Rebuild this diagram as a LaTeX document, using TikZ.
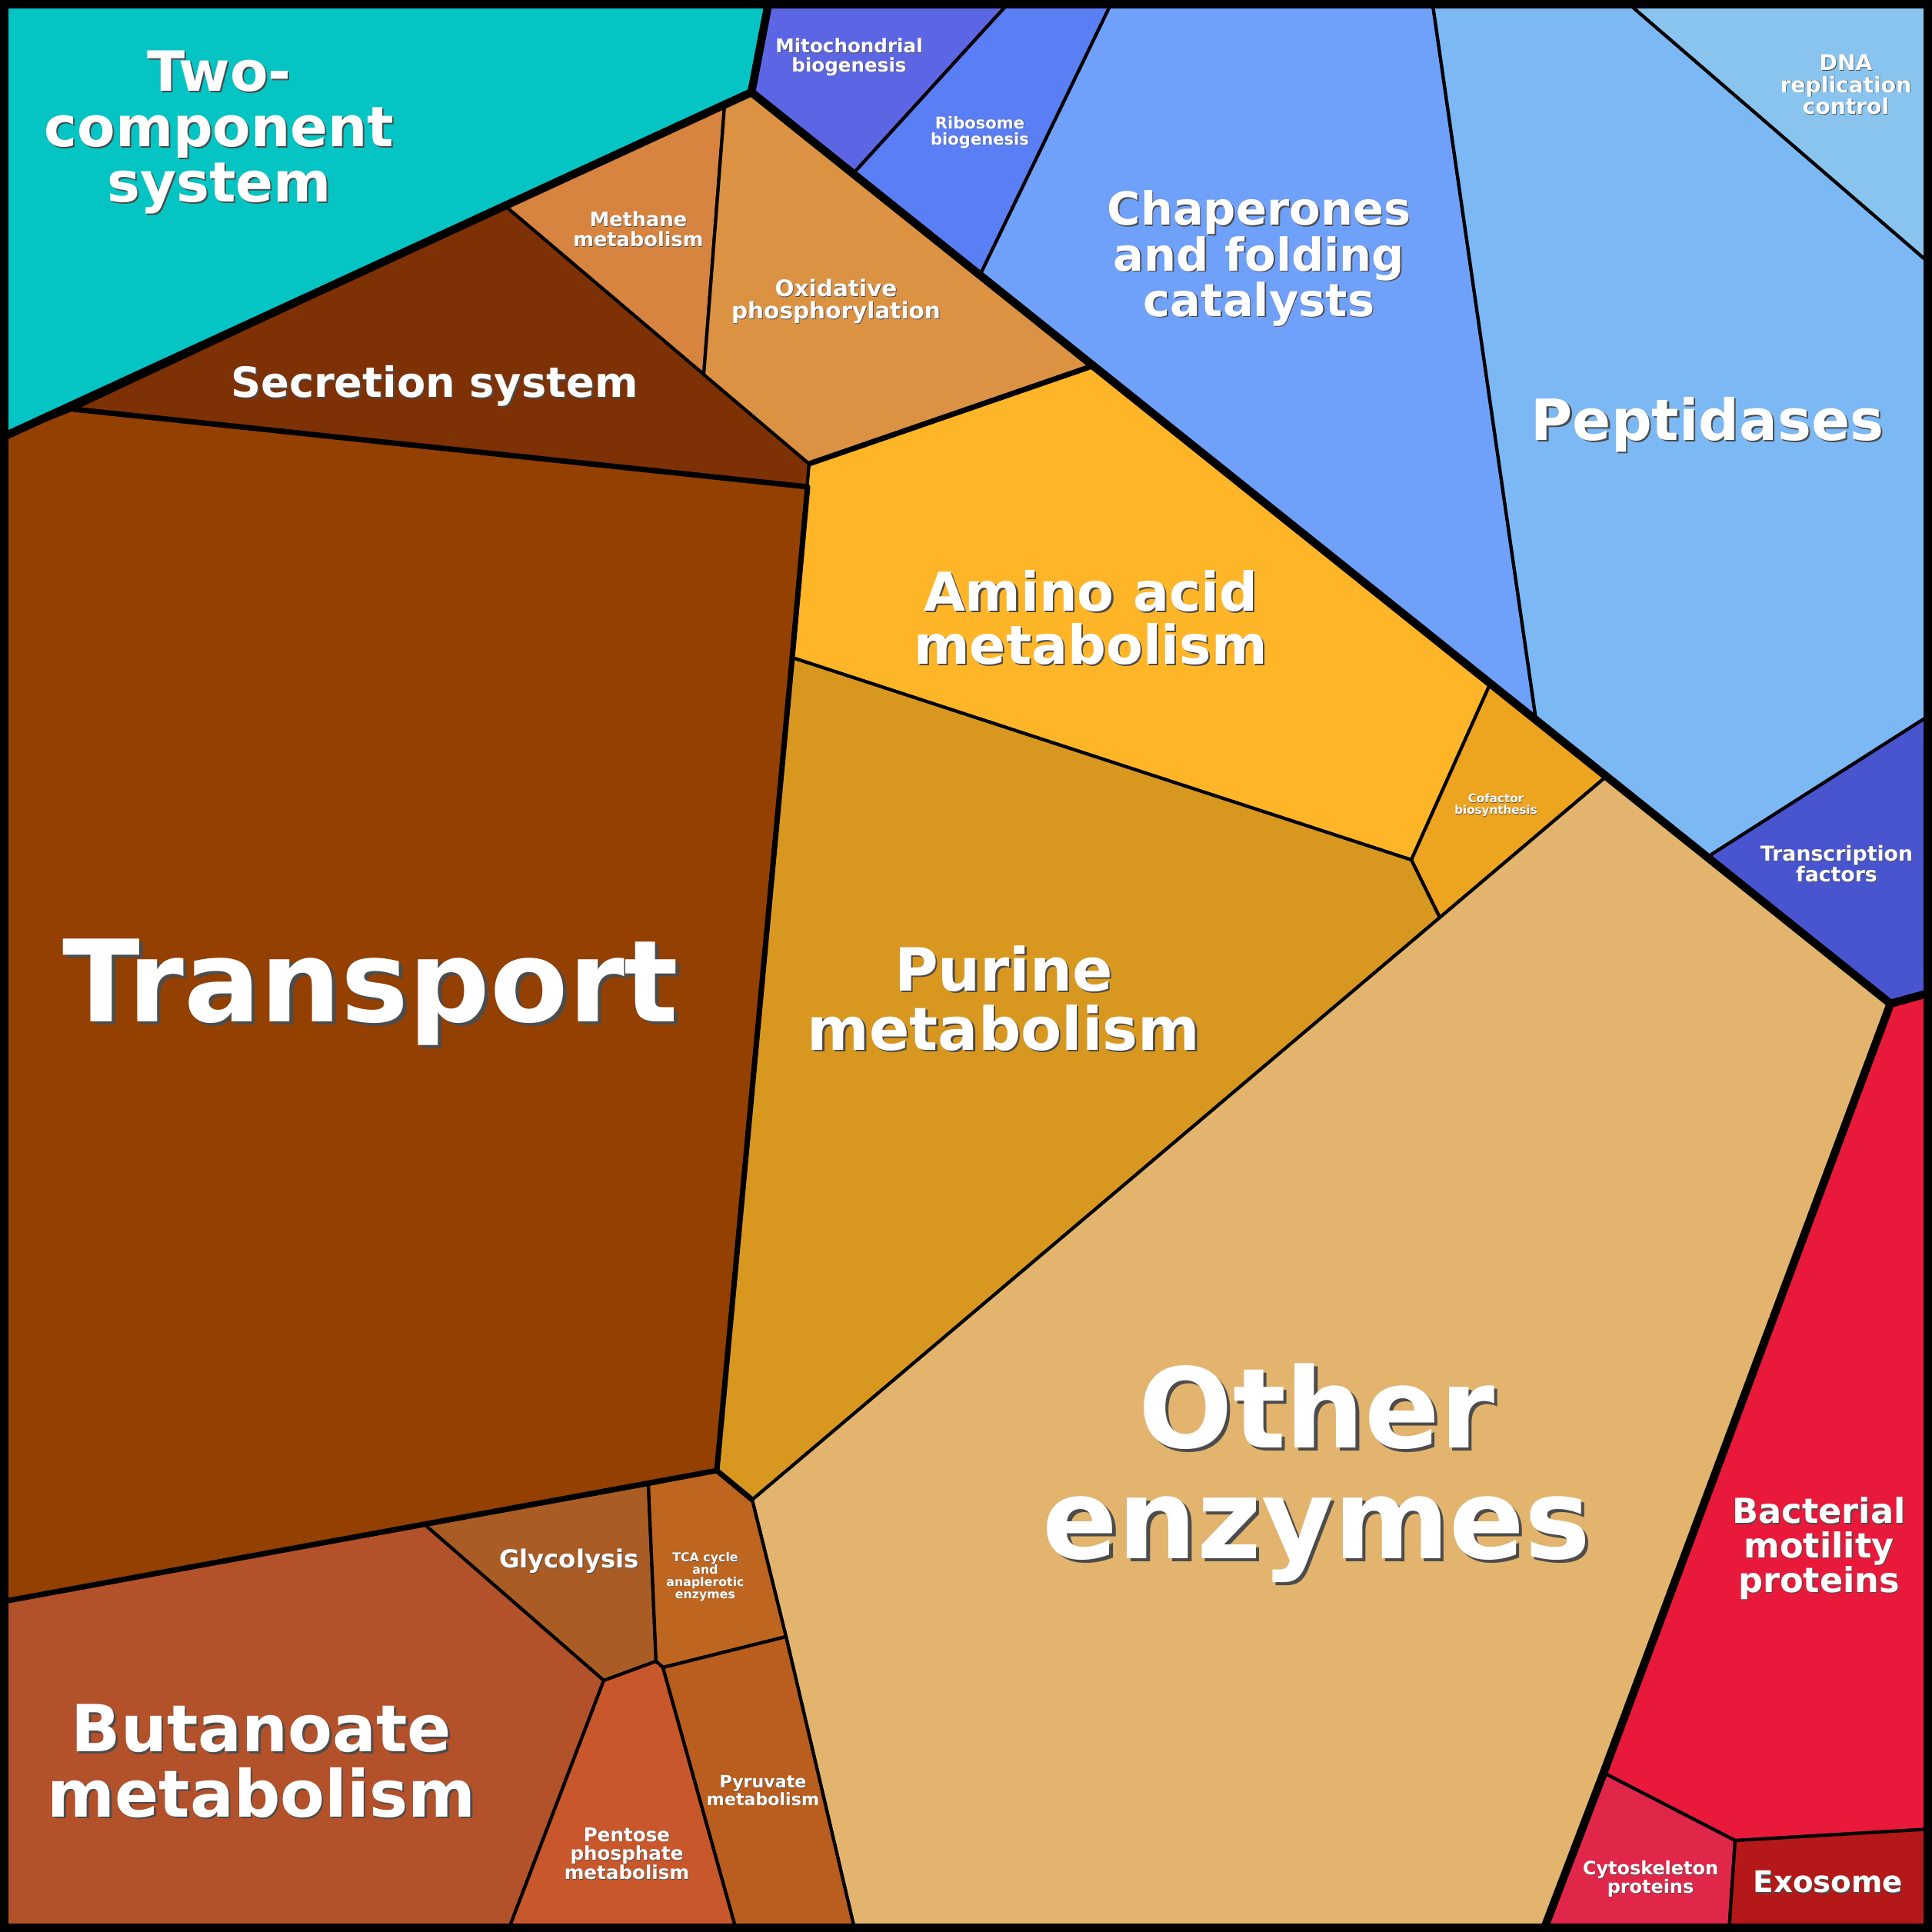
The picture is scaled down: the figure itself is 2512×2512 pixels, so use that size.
\documentclass[tikz,border=0pt]{standalone}
\usepackage{fontspec}
\setmainfont{DejaVu Sans}
\usetikzlibrary{calc}
\begin{document}
\begin{tikzpicture}[x=0.01cm,y=-0.01cm,
  cell/.style={draw=black,line width=1.2pt,line join=round},
  thk/.style={draw=black,line width=3pt,line join=round},
  mid/.style={draw=black,line width=2pt,line join=round},
  lbl/.style={text=white,align=center,inner sep=0pt,font=\bfseries},
  shd/.style={text=black!70,align=center,inner sep=0pt,font=\bfseries}]
\newcommand\lab[4]{%
  \node[shd,font=\bfseries\fontsize{#3}{#3}\selectfont] (#1s) at ($(#2)+(0.03*#3pt,-0.03*#3pt)$) {#4};
  \node[lbl,font=\bfseries\fontsize{#3}{#3}\selectfont] (#1) at (#2) {#4};}
\useasboundingbox (0,0) rectangle (2512,2512);
\definecolor{ctwo}{HTML}{04C4C4}\definecolor{cmeth}{HTML}{D6843F}\definecolor{coxi}{HTML}{DB9243}
\definecolor{csec}{HTML}{7E3105}\definecolor{ctra}{HTML}{934002}\definecolor{cmito}{HTML}{5C66E4}
\definecolor{cribo}{HTML}{5A7EF4}\definecolor{cchap}{HTML}{6FA0FA}\definecolor{cpep}{HTML}{7BB8F4}
\definecolor{cdna}{HTML}{89C4EE}\definecolor{ctf}{HTML}{4855CF}\definecolor{camino}{HTML}{FEB527}
\definecolor{ccof}{HTML}{EDA41E}\definecolor{cpur}{HTML}{D89820}\definecolor{coth}{HTML}{E2B46E}
\definecolor{cbac}{HTML}{E8193A}\definecolor{ccyto}{HTML}{E0274A}\definecolor{cexo}{HTML}{B41818}
\definecolor{cgly}{HTML}{A95D25}\definecolor{ctca}{HTML}{BE6520}\definecolor{cbut}{HTML}{B3512B}
\definecolor{cpen}{HTML}{C8572C}\definecolor{cpyr}{HTML}{B95E1E}
% cells
\fill[ctwo,cell] (0,0)--(1000,0)--(977,120)--(0,570)--cycle;
\fill[cmeth,cell] (657,268)--(942,138)--(915,487)--cycle;
\fill[csec,cell] (95,532)--(657,268)--(1052,603)--(1050,633)--cycle;
\fill[coxi,cell] (942,138)--(977,120)--(1420,476)--(1052,603)--(915,487)--cycle;
\fill[cmito,cell] (1000,0)--(1315,0)--(1110,225)--(977,120)--cycle;
\fill[cribo,cell] (1315,0)--(1447,0)--(1275,356)--(1110,225)--cycle;
\fill[cchap,cell] (1447,0)--(1862,0)--(1997,935)--(1275,356)--cycle;
\fill[cpep,cell] (1862,0)--(2112,0)--(2512,345)--(2512,928)--(2222,1113)--(1997,935)--cycle;
\fill[cdna,cell] (2112,0)--(2512,0)--(2512,345)--cycle;
\fill[ctf,cell] (2222,1113)--(2512,928)--(2512,1290)--(2458,1305)--cycle;
\fill[camino,cell] (1052,603)--(1420,476)--(1938,888)--(1835,1118)--(1030,855)--cycle;
\fill[ccof,cell] (1938,888)--(2088,1010)--(1872,1193)--(1835,1118)--cycle;
\fill[cpur,cell] (1030,855)--(1835,1118)--(1872,1193)--(978,1950)--(932,1912)--cycle;
\fill[ctra,cell] (0,570)--(95,532)--(1050,633)--(1030,855)--(932,1912)--(553,1983)--(0,2083)--cycle;
\fill[coth,cell] (2088,1010)--(2458,1305)--(2085,2305)--(2006,2512)--(1112,2512)--(1022,2128)--(978,1950)--(1872,1193)--cycle;
\fill[cbac,cell] (2458,1305)--(2512,1290)--(2512,2378)--(2256,2393)--(2085,2305)--cycle;
\fill[ccyto,cell] (2085,2305)--(2256,2393)--(2248,2512)--(2006,2512)--cycle;
\fill[cexo,cell] (2256,2393)--(2512,2378)--(2512,2512)--(2248,2512)--cycle;
\fill[cgly,cell] (553,1983)--(843,1930)--(853,2160)--(785,2185)--cycle;
\fill[ctca,cell] (843,1930)--(932,1912)--(978,1950)--(1022,2128)--(862,2168)--(853,2160)--cycle;
\fill[cbut,cell] (0,2083)--(553,1983)--(785,2185)--(660,2512)--(0,2512)--cycle;
\fill[cpen,cell] (785,2185)--(853,2160)--(862,2168)--(958,2512)--(660,2512)--cycle;
\fill[cpyr,cell] (862,2168)--(1022,2128)--(1112,2512)--(958,2512)--cycle;
% group boundaries
\draw[mid] (95,532)--(1050,633)--(1030,855)--(932,1912)--(978,1950);
\draw[mid] (0,2083)--(932,1912);
\draw[mid] (1052,603)--(1420,476);
\draw[thk] (0,570)--(977,120)--(1000,0);
\draw[thk] (977,120)--(2458,1305)--(2512,1290);
\draw[thk] (2458,1305)--(2085,2305)--(2006,2512);
\draw[line width=6pt] (0,0) rectangle (2512,2512);
% labels
\lab{a}{285,172}{20.5}{Two-\\component\\system}
\lab{b}{830,298}{7.3}{Methane\\metabolism}
\lab{c}{1087,392}{8.4}{Oxidative\\phosphorylation}
\lab{d}{565,502}{15.4}{Secretion system}
\lab{e}{1104,74}{7}{Mitochondrial\\biogenesis}
\lab{f}{1274,172}{6}{Ribosome\\biogenesis}
\lab{g}{1637,336}{16.8}{Chaperones\\and folding\\catalysts}
\lab{h}{2220,552}{21}{Peptidases}
\lab{i}{2400,110}{8}{DNA\\replication\\control}
\lab{j}{2388,1123}{7.6}{Transcription\\factors}
\lab{k}{1418,803}{19.8}{Amino acid\\metabolism}
\lab{l}{1945,1047}{4.3}{Cofactor\\biosynthesis}
\lab{m}{1305,1298}{22}{Purine\\metabolism}
\lab{n}{482,1290}{42}{Transport}
\lab{o}{1712,1915}{41}{Other\\enzymes}
\lab{p}{2365,2013}{12.7}{Bacterial\\motility\\proteins}
\lab{q}{2146,2443}{6.8}{Cytoskeleton\\proteins}
\lab{r}{2377,2447}{11}{Exosome}
\lab{s}{740,2030}{9.2}{Glycolysis}
\lab{t}{917,2050}{4.5}{TCA cycle\\and\\anaplerotic\\enzymes}
\lab{u}{340,2290}{24}{Butanoate\\metabolism}
\lab{v}{815,2410}{7}{Pentose\\phosphate\\metabolism}
\lab{w}{992,2328}{6.3}{Pyruvate\\metabolism}
\end{tikzpicture}
\end{document}
